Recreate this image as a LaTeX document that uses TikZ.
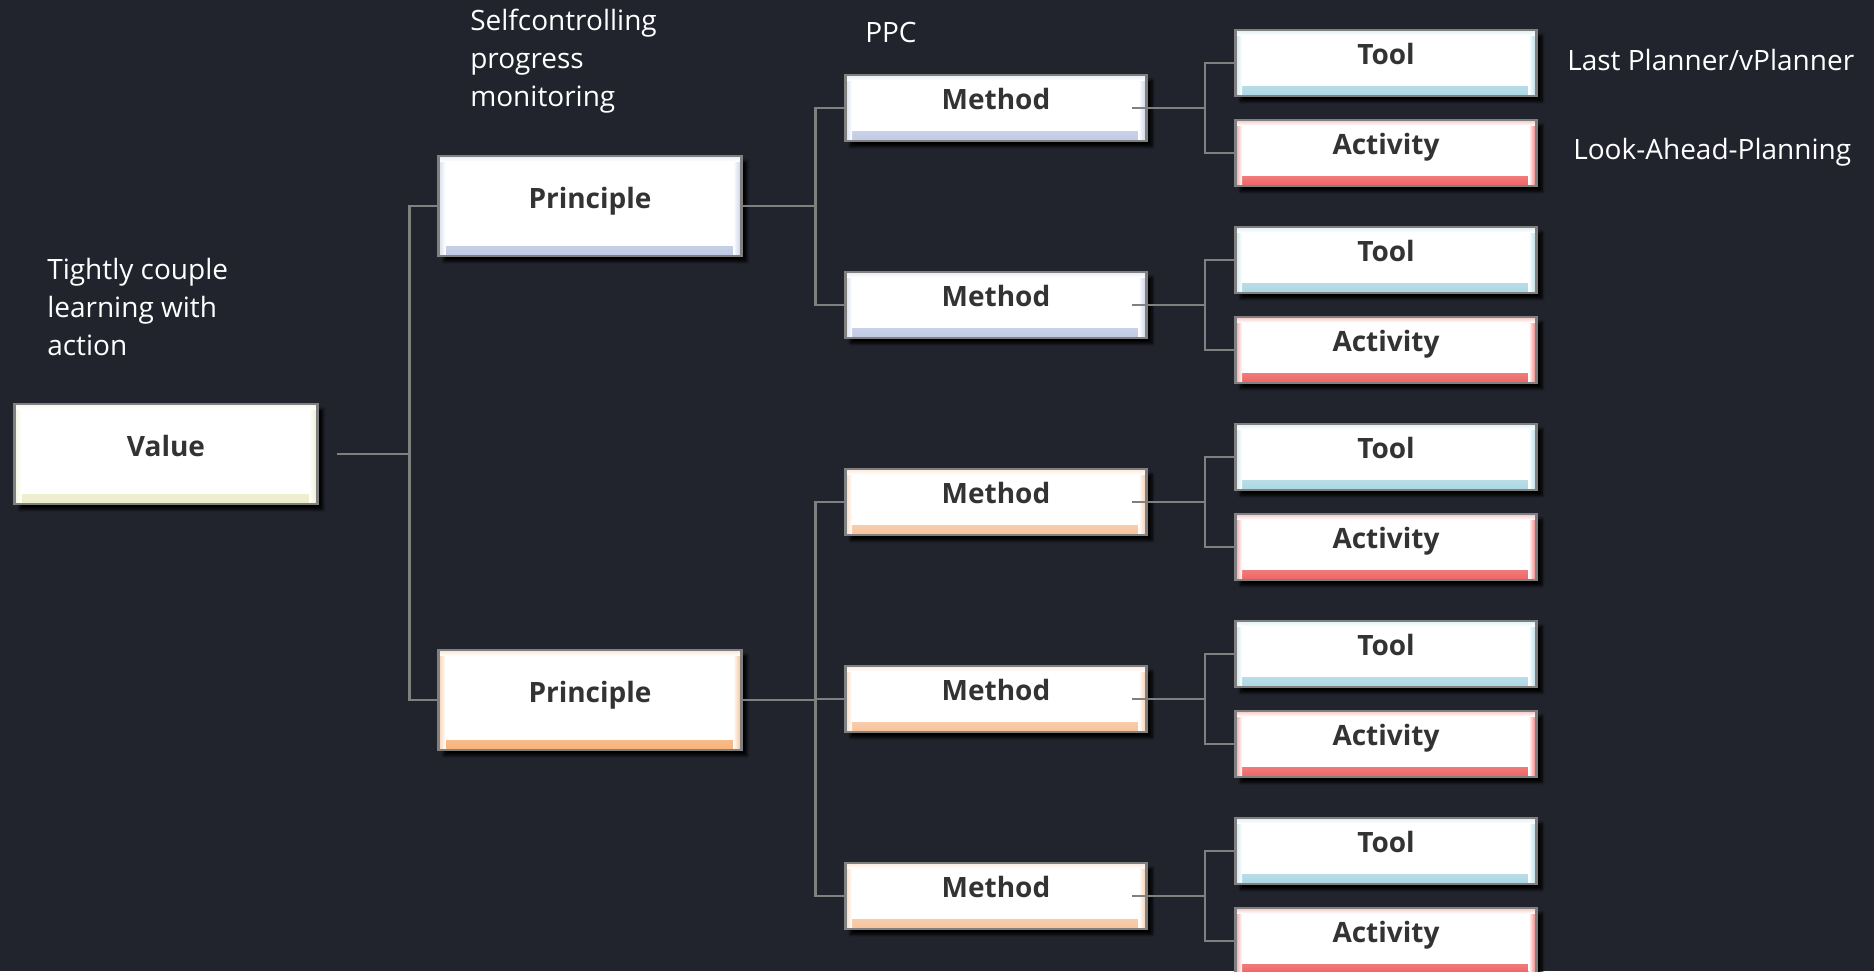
\documentclass[tikz,border=0pt]{standalone}
\usepackage{fontspec}
\setmainfont{Open Sans}
\usetikzlibrary{shadows.blur}
\definecolor{valtint}{RGB}{232,232,190}
\definecolor{bluetint}{RGB}{175,188,220}
\definecolor{orangetint}{RGB}{245,160,90}
\definecolor{peachtint}{RGB}{245,180,130}
\definecolor{tooltint}{RGB}{150,205,220}
\definecolor{acttint}{RGB}{235,60,60}

\begin{document}
\begin{tikzpicture}[x=0.75pt,y=0.75pt,yscale=-1,xscale=1,
	box/.style={draw={rgb, 255:red, 128; green, 128; blue, 128}, line width=2.2pt, fill=white, inner sep=0pt,
		minimum width=226pt, minimum height=49.5pt, text height=15pt, text depth=13pt,
		text={rgb, 255:red, 51; green, 51; blue, 51}, font=\fontsize{21}{25}\selectfont\bfseries,
		blur shadow={shadow xshift=4pt, shadow yshift=-4pt, shadow blur steps=6, shadow opacity=100}},
	bigbox/.style={box, minimum width=227pt, minimum height=75pt, text depth=11pt},
	bevel/.style={path picture={
		\shade[top color=white, bottom color=#1!80] ([yshift=7pt]path picture bounding box.south west) rectangle (path picture bounding box.south east);
		\shade[left color=white, right color=#1!75] ([xshift=-6pt]path picture bounding box.north east) rectangle (path picture bounding box.south east);
		\shade[left color=#1!50, right color=white] (path picture bounding box.north west) rectangle ([xshift=5pt]path picture bounding box.south west);
		\shade[top color=#1!30, bottom color=white] ([yshift=-4pt]path picture bounding box.north west) rectangle (path picture bounding box.north east);
	}},
	conn/.style={draw={rgb, 255:red, 128; green, 128; blue, 128}, line width=2pt},
	note/.style={anchor=west, inner sep=0pt, align=left, text=white, font=\fontsize{21}{28.5}\selectfont}]
	%uncomment if require: \path (0,971); %set diagram left start at 0, and has height of 971
	\fill[fill={rgb, 255:red, 33; green, 35; blue, 45}] (0,0) rectangle (1874,971);
	\useasboundingbox (0,0) rectangle (1874,971);
	
	% Value and principles
	\node[bigbox, bevel=valtint] (value) at (166,454) {Value};
	\node[bigbox, bevel=bluetint] (prin1) at (590,206) {Principle};
	\node[bigbox, bevel=orangetint] (prin2) at (590,700) {Principle};
	
	% Methods
	\node[box, bevel=bluetint] (meth1) at (996,108) {Method};
	\node[box, bevel=bluetint] (meth2) at (996,305) {Method};
	\node[box, bevel=peachtint] (meth3) at (996,502) {Method};
	\node[box, bevel=peachtint] (meth4) at (996,699) {Method};
	\node[box, bevel=peachtint] (meth5) at (996,896) {Method};
	
	% Tools and activities
	\node[box, bevel=tooltint] (tool1) at (1386,63) {Tool};
	\node[box, bevel=acttint] (act1) at (1386,153) {Activity};
	\node[box, bevel=tooltint] (tool2) at (1386,260) {Tool};
	\node[box, bevel=acttint] (act2) at (1386,350) {Activity};
	\node[box, bevel=tooltint] (tool3) at (1386,457) {Tool};
	\node[box, bevel=acttint] (act3) at (1386,547) {Activity};
	\node[box, bevel=tooltint] (tool4) at (1386,654) {Tool};
	\node[box, bevel=acttint] (act4) at (1386,744) {Activity};
	\node[box, bevel=tooltint] (tool5) at (1386,851) {Tool};
	\node[box, bevel=acttint] (act5) at (1386,941) {Activity};
	
	% Connectors
	\draw[conn] ([xshift=13.5pt]value.east) -- ++(73,0) coordinate (vsplit);
	\draw[conn] (vsplit) |- (prin1.west);
	\draw[conn] (vsplit) |- (prin2.west);
	\draw[conn] (prin1.east) -- ++(73,0) coordinate (p1split);
	\draw[conn] (p1split) |- (meth1.west);
	\draw[conn] (p1split) |- (meth2.west);
	\draw[conn] (prin2.east) -- ++(73,0) coordinate (p2split);
	\draw[conn] (p2split) |- (meth3.west);
	\draw[conn] (p2split) |- (meth4.west);
	\draw[conn] (p2split) |- (meth5.west);
	\draw[conn] ([xshift=-12pt]meth1.east) -- ++(73,0) coordinate (m1split);
	\draw[conn] (tool1.west) -| (m1split) |- (act1.west);
	\draw[conn] ([xshift=-12pt]meth2.east) -- ++(73,0) coordinate (m2split);
	\draw[conn] (tool2.west) -| (m2split) |- (act2.west);
	\draw[conn] ([xshift=-12pt]meth3.east) -- ++(73,0) coordinate (m3split);
	\draw[conn] (tool3.west) -| (m3split) |- (act3.west);
	\draw[conn] ([xshift=-12pt]meth4.east) -- ++(73,0) coordinate (m4split);
	\draw[conn] (tool4.west) -| (m4split) |- (act4.west);
	\draw[conn] ([xshift=-12pt]meth5.east) -- ++(73,0) coordinate (m5split);
	\draw[conn] (tool5.west) -| (m5split) |- (act5.west);
	
	% Text Node
	\node[note] (valnote) at (47,307) {Tightly couple\\learning with\\action};
	% Text Node
	\node[note] (prinnote) at (470,61) {Selfcontrolling\\progress\\monitoring};
	% Text Node
	\node[note] (methnote) at (865,32) {PPC};
	% Text Node
	\node[note] (toolnote) at (1567,60) {Last Planner/vPlanner};
	% Text Node
	\node[note] (actnote) at (1573,152) {Look-Ahead-Planning};
\end{tikzpicture}
\end{document}
